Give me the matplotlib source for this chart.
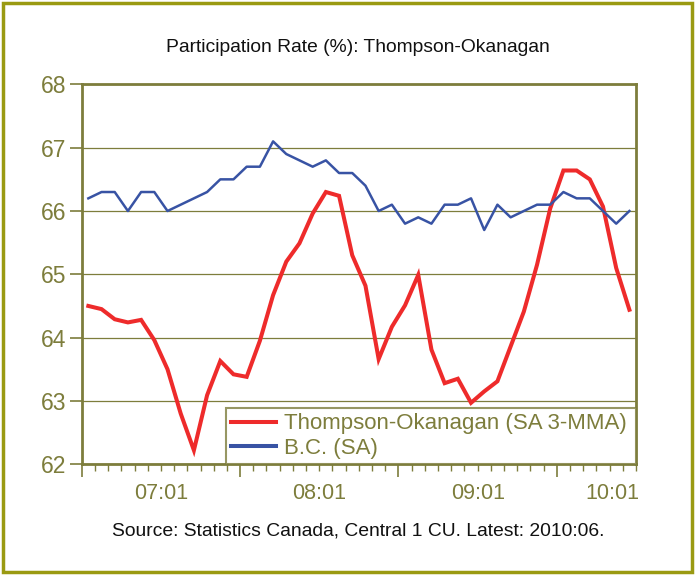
import matplotlib
matplotlib.use("Agg")
import matplotlib.pyplot as plt
from matplotlib.patches import Rectangle

plt.rcParams['font.family'] = ['Liberation Sans', 'DejaVu Sans']

# ---- data (monthly, 2007:01 .. 2010:06) ----
tick_labels = ["07:01", "08:01", "09:01", "10:01"]
series_names = ["Thompson-Okanagan (SA 3-MMA)", "B.C. (SA)"]

thompson_okanagan = [
    64.50, 64.45, 64.29, 64.24, 64.28, 63.96, 63.50, 62.80, 62.22, 63.09,
    63.63, 63.42, 63.38, 63.95, 64.67, 65.20, 65.49, 65.96, 66.30, 66.24,
    65.30, 64.82, 63.66, 64.17, 64.51, 64.99, 63.81, 63.28, 63.35, 62.97,
    63.15, 63.31, 63.86, 64.41, 65.15, 66.04, 66.64, 66.64, 66.50, 66.07,
    65.10, 64.44,
]
bc = [
    66.2, 66.3, 66.3, 66.0, 66.3, 66.3, 66.0, 66.1, 66.2, 66.3,
    66.5, 66.5, 66.7, 66.7, 67.1, 66.9, 66.8, 66.7, 66.8, 66.6,
    66.6, 66.4, 66.0, 66.1, 65.8, 65.9, 65.8, 66.1, 66.1, 66.2,
    65.7, 66.1, 65.9, 66.0, 66.1, 66.1, 66.3, 66.2, 66.2, 66.0,
    65.8, 66.0,
]

OLIVE = "#7d7d3c"
OLIVE_BORDER = "#9a9a12"
RED = "#ee2b2b"
BLUE = "#3853a4"

fig = plt.figure(figsize=(6.95, 5.75), dpi=100)
fig.patch.set_facecolor("white")
fig.patches.append(Rectangle((0.004, 0.005), 0.992, 0.99, transform=fig.transFigure,
                             fill=False, edgecolor=OLIVE_BORDER, linewidth=2.5))

ax = fig.add_axes([0.1176, 0.1927, 0.7975, 0.6605])
n = len(bc)
x = list(range(n))

ax.plot(x, thompson_okanagan, color=RED, lw=2.9, solid_joinstyle="miter",
        label=series_names[0], zorder=3)
ax.plot(x, bc, color=BLUE, lw=1.8, label=series_names[1], zorder=3)

ax.set_xlim(-0.5, n - 0.5)
ax.set_ylim(62, 68)
ax.set_yticks(range(62, 69))
ax.yaxis.grid(True, color=OLIVE, lw=0.9)
ax.set_axisbelow(True)

major = [-0.5 + 12 * k for k in range(4)]
ax.set_xticks(major)
ax.set_xticklabels([])
ax.set_xticks([i - 0.5 for i in range(n + 1)], minor=True)
ax.tick_params(axis="x", which="major", length=9, width=1.2, color=OLIVE)
ax.tick_params(axis="x", which="minor", length=5, width=1.0, color=OLIVE)
ax.tick_params(axis="y", which="major", length=9, width=1.2, color=OLIVE,
               labelcolor=OLIVE, labelsize=16.5, pad=2)

label_pos = [5.5, 17.5, 29.5, 39.7]
for p, t in zip(label_pos, tick_labels):
    ax.text(p, -0.078, t, transform=ax.get_xaxis_transform(), ha="center", va="center",
            color=OLIVE, fontsize=15.5)

for s in ax.spines.values():
    s.set_color(OLIVE)
    s.set_linewidth(2.0)

leg = ax.legend(loc="lower left", bbox_to_anchor=(0.26, 0.0, 0.74, 0.155), mode="expand",
                borderaxespad=0, fontsize=16, frameon=True, fancybox=False,
                handlelength=2.0, handletextpad=0.35, labelspacing=0.15,
                borderpad=0.25)
leg.get_frame().set_edgecolor(OLIVE)
leg.get_frame().set_linewidth(1.5)
for t in leg.get_texts():
    t.set_color(OLIVE)
for h in leg.get_lines():
    h.set_linewidth(2.9)

fig.text(0.515, 0.918, "Participation Rate (%): Thompson-Okanagan", ha="center", va="center",
         fontsize=13.9, color="#111111")
fig.text(0.515, 0.0765, "Source: Statistics Canada, Central 1 CU. Latest: 2010:06.",
         ha="center", va="center", fontsize=13.9, color="#111111")

fig.savefig("out.png", dpi=100, facecolor="white")
